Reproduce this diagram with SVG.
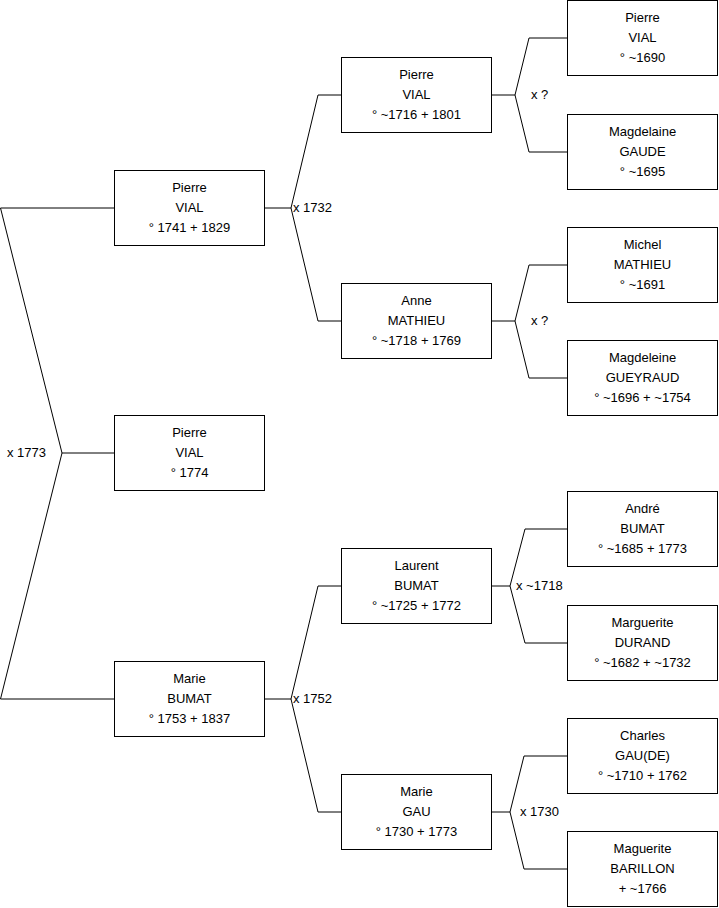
<svg xmlns="http://www.w3.org/2000/svg" width="719" height="908" viewBox="0 0 719 908">
<style>
.box{fill:#fff;stroke:#000;stroke-width:1}
.t{font-family:"Liberation Sans",Arial,sans-serif;font-size:13px;fill:#000;text-anchor:middle;dominant-baseline:central}
.l{font-family:"Liberation Sans",Arial,sans-serif;font-size:13px;fill:#000;dominant-baseline:central}
.c{fill:none;stroke:#000;stroke-width:1}
</style>
<rect width="719" height="908" fill="#fff"/>
<g id="connectors">
<path class="c" d="M114.5,208 H0.5 L62,453 L0.5,699 H114.5 M62,453 H114.5"/>
<path class="c" d="M341.5,95 H318 L291,208 L318,321 H341.5 M264.5,208 H291"/>
<path class="c" d="M341.5,586 H318 L291,699 L318,812 H341.5 M264.5,699 H291"/>
<path class="c" d="M567.5,38 H529 L515,95 L529,152 H567.5 M491.5,95 H515"/>
<path class="c" d="M567.5,265 H529 L515,321 L529,378 H567.5 M491.5,321 H515"/>
<path class="c" d="M567.5,529 H525 L510,586 L525,643 H567.5 M491.5,586 H510"/>
<path class="c" d="M567.5,756 H524 L510,812 L524,869 H567.5 M491.5,812 H510"/>
<text class="l" x="46" y="452" text-anchor="end">x 1773</text>
<text class="l" x="293" y="207">x 1732</text>
<text class="l" x="293" y="698">x 1752</text>
<text class="l" x="531" y="94">x ?</text>
<text class="l" x="531" y="320">x ?</text>
<text class="l" x="516" y="585">x ~1718</text>
<text class="l" x="520" y="811">x 1730</text>
</g>
<g id="n1"><rect class="box" x="114.5" y="170.5" width="150" height="75"/><text class="t" x="189.5" y="187">Pierre</text><text class="t" x="189.5" y="207">VIAL</text><text class="t" x="189.5" y="227">° 1741 + 1829</text></g>
<g id="n2"><rect class="box" x="114.5" y="415.5" width="150" height="75"/><text class="t" x="189.5" y="432">Pierre</text><text class="t" x="189.5" y="452">VIAL</text><text class="t" x="189.5" y="472">° 1774</text></g>
<g id="n3"><rect class="box" x="114.5" y="661.5" width="150" height="75"/><text class="t" x="189.5" y="678">Marie</text><text class="t" x="189.5" y="698">BUMAT</text><text class="t" x="189.5" y="718">° 1753 + 1837</text></g>
<g id="n4"><rect class="box" x="341.5" y="57.5" width="150" height="75"/><text class="t" x="416.5" y="74">Pierre</text><text class="t" x="416.5" y="94">VIAL</text><text class="t" x="416.5" y="114">° ~1716 + 1801</text></g>
<g id="n5"><rect class="box" x="341.5" y="283.5" width="150" height="75"/><text class="t" x="416.5" y="300">Anne</text><text class="t" x="416.5" y="320">MATHIEU</text><text class="t" x="416.5" y="340">° ~1718 + 1769</text></g>
<g id="n6"><rect class="box" x="341.5" y="548.5" width="150" height="75"/><text class="t" x="416.5" y="565">Laurent</text><text class="t" x="416.5" y="585">BUMAT</text><text class="t" x="416.5" y="605">° ~1725 + 1772</text></g>
<g id="n7"><rect class="box" x="341.5" y="774.5" width="150" height="75"/><text class="t" x="416.5" y="791">Marie</text><text class="t" x="416.5" y="811">GAU</text><text class="t" x="416.5" y="831">° 1730 + 1773</text></g>
<g id="n8"><rect class="box" x="567.5" y="0.5" width="150" height="75"/><text class="t" x="642.5" y="17">Pierre</text><text class="t" x="642.5" y="37">VIAL</text><text class="t" x="642.5" y="57">° ~1690</text></g>
<g id="n9"><rect class="box" x="567.5" y="114.5" width="150" height="75"/><text class="t" x="642.5" y="131">Magdelaine</text><text class="t" x="642.5" y="151">GAUDE</text><text class="t" x="642.5" y="171">° ~1695</text></g>
<g id="n10"><rect class="box" x="567.5" y="227.5" width="150" height="75"/><text class="t" x="642.5" y="244">Michel</text><text class="t" x="642.5" y="264">MATHIEU</text><text class="t" x="642.5" y="284">° ~1691</text></g>
<g id="n11"><rect class="box" x="567.5" y="340.5" width="150" height="75"/><text class="t" x="642.5" y="357">Magdeleine</text><text class="t" x="642.5" y="377">GUEYRAUD</text><text class="t" x="642.5" y="397">° ~1696 + ~1754</text></g>
<g id="n12"><rect class="box" x="567.5" y="491.5" width="150" height="75"/><text class="t" x="642.5" y="508">André</text><text class="t" x="642.5" y="528">BUMAT</text><text class="t" x="642.5" y="548">° ~1685 + 1773</text></g>
<g id="n13"><rect class="box" x="567.5" y="605.5" width="150" height="75"/><text class="t" x="642.5" y="622">Marguerite</text><text class="t" x="642.5" y="642">DURAND</text><text class="t" x="642.5" y="662">° ~1682 + ~1732</text></g>
<g id="n14"><rect class="box" x="567.5" y="718.5" width="150" height="75"/><text class="t" x="642.5" y="735">Charles</text><text class="t" x="642.5" y="755">GAU(DE)</text><text class="t" x="642.5" y="775">° ~1710 + 1762</text></g>
<g id="n15"><rect class="box" x="567.5" y="831.5" width="150" height="75"/><text class="t" x="642.5" y="848">Maguerite</text><text class="t" x="642.5" y="868">BARILLON</text><text class="t" x="642.5" y="888">+ ~1766</text></g>
</svg>
